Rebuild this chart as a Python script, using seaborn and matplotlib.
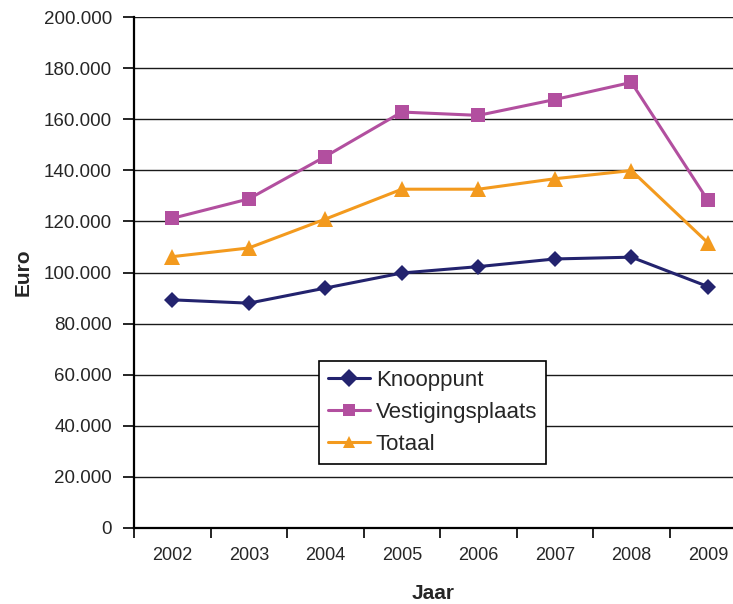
import matplotlib
matplotlib.use("Agg")
import matplotlib.pyplot as plt
import seaborn as sns
import pandas as pd
import numpy as np
from matplotlib.ticker import FuncFormatter, MultipleLocator, FixedLocator

years = ["2002", "2003", "2004", "2005", "2006", "2007", "2008", "2009"]
knooppunt = [89300, 88000, 93900, 99800, 102300, 105300, 106000, 94500]
vestigingsplaats = [121200, 128800, 145400, 162800, 161500, 167700, 174400, 128200]
totaal = [106200, 109600, 120900, 132600, 132600, 136700, 139900, 111600]

series_names = ["Knooppunt", "Vestigingsplaats", "Totaal"]
colors = {"Knooppunt": "#23236E", "Vestigingsplaats": "#B24F9F", "Totaal": "#F39A1E"}
markers = {"Knooppunt": "D", "Vestigingsplaats": "s", "Totaal": "^"}
msizes = {"Knooppunt": 8.5, "Vestigingsplaats": 10, "Totaal": 11}

rows = []
for name, vals in zip(series_names, [knooppunt, vestigingsplaats, totaal]):
    for i, (y, v) in enumerate(zip(years, vals)):
        rows.append({"pos": i, "Jaar": y, "Euro": v, "serie": name})
df = pd.DataFrame(rows)

sns.set_style("white")
plt.rcParams["font.family"] = ["Liberation Sans", "DejaVu Sans"]

fig = plt.figure(figsize=(7.33, 6.04), dpi=100)
ax = fig.add_axes([134/733, 1-528/604, 1-134/733, (528-17)/604])

sns.lineplot(data=df, x="pos", y="Euro", hue="serie", style="serie",
             palette=colors, markers=markers, dashes=False, linewidth=2.2,
             markersize=9, markeredgewidth=0, ax=ax, legend=True)
for line, name in zip(ax.lines[:3], series_names):
    line.set_markersize(msizes[name])

ax.set_ylim(0, 200000)
ax.set_xlim(-0.5, 7 + 25/76.3)
ax.yaxis.set_major_locator(MultipleLocator(20000))
ax.yaxis.set_major_formatter(FuncFormatter(lambda v, p: f"{int(v):,}".replace(",", ".")))
ax.grid(axis="y", color="#1a1a1a", linewidth=1.0)
ax.set_axisbelow(True)

ax.xaxis.set_major_locator(FixedLocator(range(len(years))))
ax.set_xticklabels(years)
ax.xaxis.set_minor_locator(FixedLocator([i + 0.5 for i in range(-1, len(years))]))
ax.tick_params(axis="x", which="major", length=0, pad=14, labelsize=13)
ax.tick_params(axis="x", which="minor", length=7, width=1.2, direction="out", color="black", bottom=True)
ax.tick_params(axis="y", which="major", length=8, width=1.2, direction="out", color="black", left=True, labelsize=13.5, pad=8)

for s in ["top", "right"]:
    ax.spines[s].set_visible(False)
for s in ["left", "bottom"]:
    ax.spines[s].set_color("black")
    ax.spines[s].set_linewidth(1.6)

ax.set_xlabel("Jaar", fontsize=15, fontweight="bold", labelpad=14)
ax.set_ylabel("Euro", fontsize=15, fontweight="bold", labelpad=8)

handles, labels = ax.get_legend_handles_labels()
leg = ax.legend(handles, labels, loc="upper left", bbox_to_anchor=((319-134)/599, (528-361)/511),
                frameon=True, fancybox=False, shadow=False, fontsize=16,
                handlelength=1.9, handletextpad=0.25, borderpad=0.4, labelspacing=0.5,
                borderaxespad=0)
leg.get_frame().set_edgecolor("black")
leg.get_frame().set_linewidth(1.2)
leg.get_frame().set_alpha(1)

fig.savefig("out.png", dpi=100)
